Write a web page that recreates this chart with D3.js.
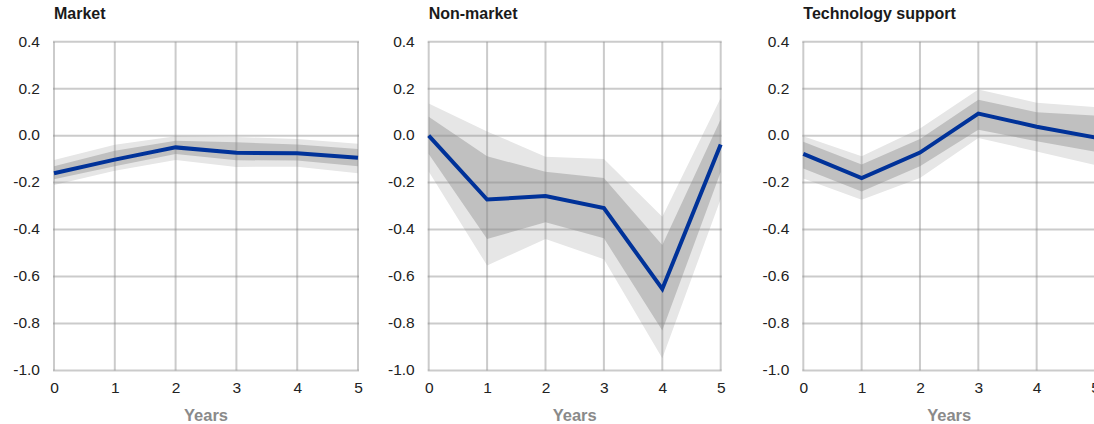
<!DOCTYPE html>
<html>
<head>
<meta charset="utf-8">
<script src="https://cdn.jsdelivr.net/npm/d3@7"></script>
<style>
  html, body { margin: 0; padding: 0; background: #fff; overflow: hidden; }
  svg { display: block; font-family: "Liberation Sans", Arial, sans-serif; }
</style>
</head>
<body>
<svg id="chart" width="1094" height="424"></svg>
<script>
// Horizon in years
const years = [0, 1, 2, 3, 4, 5];

// Y axis ticks and their printed labels
const yTicks = [-1.0, -0.8, -0.6, -0.4, -0.2, 0.0, 0.2, 0.4];
const yTickLabels = ["-1.0", "-0.8", "-0.6", "-0.4", "-0.2", "0.0", "0.2", "0.4"];
const xTickLabels = ["0", "1", "2", "3", "4", "5"];

const panelTitles = ["Market", "Non-market", "Technology support"];

// Market
const marketLine      = [-0.160, -0.102, -0.050, -0.073, -0.075, -0.094];
const marketInnerLow  = [-0.186, -0.130, -0.078, -0.105, -0.106, -0.130];
const marketInnerHigh = [-0.130, -0.064, -0.022, -0.028, -0.038, -0.057];
const marketOuterLow  = [-0.210, -0.150, -0.104, -0.133, -0.132, -0.160];
const marketOuterHigh = [-0.104, -0.039, -0.003, -0.006, -0.014, -0.034];

// Non-market
const nonMarketLine      = [0.000, -0.272, -0.257, -0.308, -0.653, -0.038];
const nonMarketInnerLow  = [-0.078, -0.440, -0.369, -0.437, -0.830, -0.155];
const nonMarketInnerHigh = [0.080, -0.088, -0.154, -0.180, -0.466, 0.070];
const nonMarketOuterLow  = [-0.153, -0.553, -0.440, -0.526, -0.948, -0.270];
const nonMarketOuterHigh = [0.137, 0.018, -0.090, -0.099, -0.345, 0.160];

// Technology support
const techLine      = [-0.078, -0.181, -0.072, 0.094, 0.038, -0.008];
const techInnerLow  = [-0.140, -0.238, -0.130, 0.025, -0.024, -0.068];
const techInnerHigh = [-0.026, -0.123, -0.014, 0.153, 0.100, 0.085];
const techOuterLow  = [-0.182, -0.273, -0.180, -0.010, -0.067, -0.125];
const techOuterHigh = [-0.003, -0.088, 0.030, 0.197, 0.140, 0.122];

const panels = [
  { title: panelTitles[0], line: marketLine, inner: [marketInnerLow, marketInnerHigh], outer: [marketOuterLow, marketOuterHigh], left: 54, right: 358 },
  { title: panelTitles[1], line: nonMarketLine, inner: [nonMarketInnerLow, nonMarketInnerHigh], outer: [nonMarketOuterLow, nonMarketOuterHigh], left: 428.7, right: 720.7 },
  { title: panelTitles[2], line: techLine, inner: [techInnerLow, techInnerHigh], outer: [techOuterLow, techOuterHigh], left: 803.3, right: 1095 }
];

const plotTop = 41.7, plotBottom = 370.5;
const y = d3.scaleLinear().domain([-1.0, 0.4]).range([plotBottom, plotTop]);

const svg = d3.select("#chart");

panels.forEach(p => {
  const x = d3.scaleLinear().domain([0, 5]).range([p.left, p.right]);
  const g = svg.append("g");

  const band = (lo, hi) => d3.area()
    .x((d, i) => x(years[i]))
    .y0((d, i) => y(lo[i]))
    .y1((d, i) => y(hi[i]))(years);

  // Outer and inner bands
  g.append("path").attr("d", band(p.outer[0], p.outer[1])).attr("fill", "#e6e6e6");
  g.append("path").attr("d", band(p.inner[0], p.inner[1])).attr("fill", "#c0c0c0");

  // Grid
  const grid = g.append("g")
    .attr("stroke", "rgba(140,140,140,0.45)")
    .attr("stroke-width", 2)
    .attr("fill", "none");
  grid.selectAll("line.h").data(yTicks).join("line")
    .attr("class", "h")
    .attr("x1", p.left - 1).attr("x2", p.right + 1)
    .attr("y1", d => y(d)).attr("y2", d => y(d));
  grid.selectAll("line.v").data(years).join("line")
    .attr("class", "v")
    .attr("x1", d => x(d)).attr("x2", d => x(d))
    .attr("y1", plotTop).attr("y2", plotBottom);

  // Central line
  g.append("path")
    .attr("d", d3.line().x((d, i) => x(years[i])).y(d => y(d))(p.line))
    .attr("fill", "none")
    .attr("stroke", "#003299")
    .attr("stroke-width", 4);

  // Axes (labels only)
  const yAxis = g.append("g")
    .attr("transform", `translate(${p.left},0)`)
    .call(d3.axisLeft(y).tickValues(yTicks)
      .tickFormat((d, i) => yTickLabels[i]).tickSize(0).tickPadding(14));
  yAxis.select(".domain").remove();
  yAxis.selectAll("text")
    .attr("font-size", 15.5)
    .attr("font-family", "'Liberation Sans', Arial, sans-serif")
    .attr("fill", "#222")
    .attr("dy", "0.28em");

  const xAxis = g.append("g")
    .attr("transform", `translate(0,${plotBottom})`)
    .call(d3.axisBottom(x).tickValues(years)
      .tickFormat((d, i) => xTickLabels[i]).tickSize(0).tickPadding(11));
  xAxis.select(".domain").remove();
  xAxis.selectAll("text")
    .attr("font-size", 15.5)
    .attr("font-family", "'Liberation Sans', Arial, sans-serif")
    .attr("fill", "#222");

  // Axis title and panel title
  g.append("text")
    .attr("x", (p.left + p.right) / 2)
    .attr("y", 421)
    .attr("text-anchor", "middle")
    .attr("font-size", 16.5)
    .attr("font-weight", "bold")
    .attr("fill", "#8a8a8a")
    .text("Years");

  g.append("text")
    .attr("x", p.left)
    .attr("y", 18.5)
    .attr("font-size", 16)
    .attr("font-weight", "bold")
    .attr("fill", "#1a1a1a")
    .text(p.title);
});
</script>
</body>
</html>
